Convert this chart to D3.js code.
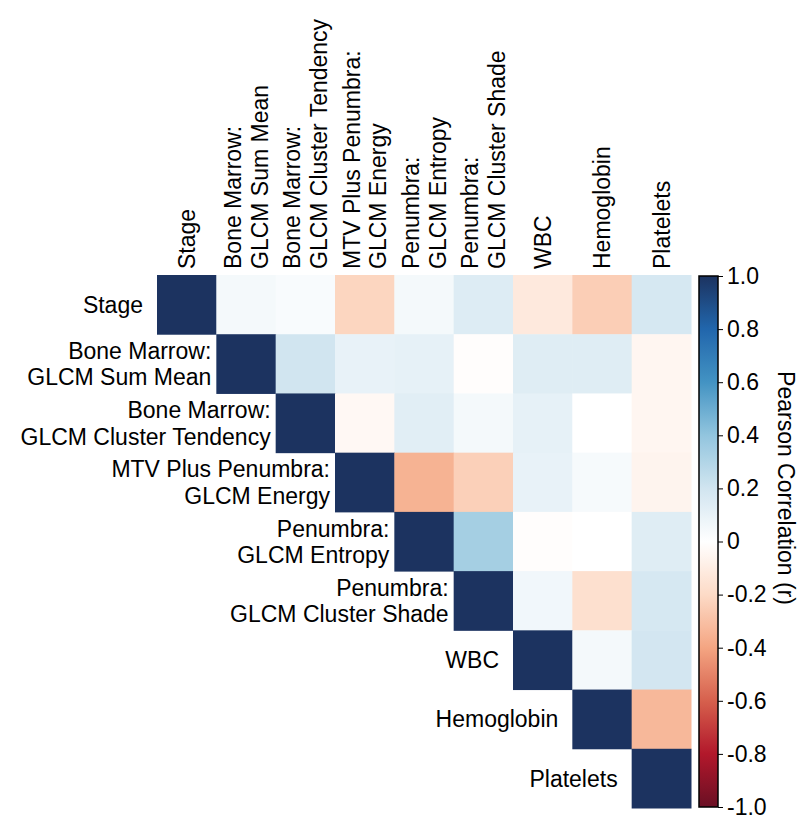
<!DOCTYPE html>
<html>
<head>
<meta charset="utf-8">
<script src="https://cdn.jsdelivr.net/npm/d3@7"></script>
<style>
  html, body { margin: 0; padding: 0; background: #ffffff; }
  svg text { font-family: "Liberation Sans", Arial, Helvetica, sans-serif; fill: #000; }
</style>
</head>
<body>
<svg id="chart" width="800" height="817"></svg>
<script>
// ---------------- data ----------------
const labels = [
  "Stage",
  "Bone Marrow:\nGLCM Sum Mean",
  "Bone Marrow:\nGLCM Cluster Tendency",
  "MTV Plus Penumbra:\nGLCM Energy",
  "Penumbra:\nGLCM Entropy",
  "Penumbra:\nGLCM Cluster Shade",
  "WBC",
  "Hemoglobin",
  "Platelets"
];
// upper triangle (diagonal first) of the Pearson correlation matrix, one array per row
const rowStage            = [1.00, 0.05, 0.03, -0.22, 0.05, 0.15, -0.12, -0.25, 0.18];
const rowBMSumMean        = [1.00, 0.20, 0.10, 0.11, -0.01, 0.14, 0.14, -0.05];
const rowBMClusterTend    = [1.00, -0.04, 0.13, 0.05, 0.11, 0.00, -0.05];
const rowMTVEnergy        = [1.00, -0.35, -0.24, 0.10, 0.04, -0.06];
const rowPenEntropy       = [1.00, 0.34, -0.01, 0.00, 0.14];
const rowPenClusterShade  = [1.00, 0.06, -0.17, 0.18];
const rowWBC              = [1.00, 0.05, 0.19];
const rowHemoglobin       = [1.00, -0.33];
const rowPlatelets        = [1.00];
const colorTicks  = [1.0, 0.8, 0.6, 0.4, 0.2, 0, -0.2, -0.4, -0.6, -0.8, -1.0];
const tickLabels  = ["1.0", "0.8", "0.6", "0.4", "0.2", "0", "-0.2", "-0.4", "-0.6", "-0.8", "-1.0"];
const colorbarTitle = "Pearson Correlation (r)";

// ---------------- build cells ----------------
const rows = [rowStage, rowBMSumMean, rowBMClusterTend, rowMTVEnergy, rowPenEntropy,
              rowPenClusterShade, rowWBC, rowHemoglobin, rowPlatelets];
const cells = [];
rows.forEach((r, i) => r.forEach((v, k) => cells.push({ row: i, col: i + k, value: v })));

// ---------------- layout ----------------
const FS = 23;
const svg = d3.select("#chart");
const idx = d3.range(labels.length);
const x = d3.scaleBand().domain(idx).range([157, 691]);
const y = d3.scaleBand().domain(idx).range([275, 808]);

const palette = ["#6a0f24", "#b2182b", "#d6604d", "#f4a582", "#fddbc7", "#ffffff",
                 "#d1e5f0", "#92c5de", "#4393c3", "#2166ac", "#1c3360"];
const interp = d3.piecewise(d3.interpolateRgb, palette);
const color = d3.scaleSequential(interp).domain([-1, 1]);

// cells
svg.append("g").selectAll("rect").data(cells).join("rect")
  .attr("x", d => x(d.col))
  .attr("y", d => y(d.row))
  .attr("width", x.bandwidth() + 0.5)
  .attr("height", y.bandwidth() + 0.5)
  .attr("fill", d => color(d.value));

// row labels (right aligned, to the left of the diagonal cell)
const lh = FS * 1.15;
const rowG = svg.append("g");
labels.forEach((lab, i) => {
  const lines = lab.split("\n");
  const gap = lines.length > 1 ? 5 : 14;
  const t = rowG.append("text")
    .attr("text-anchor", "end")
    .attr("font-size", FS)
    .attr("x", x(i) - gap)
    .attr("y", y(i) + y.bandwidth() / 2);
  lines.forEach((ln, j) => {
    t.append("tspan")
      .attr("x", x(i) - gap)
      .attr("dy", j === 0 ? ((-(lines.length - 1) / 2) * lh + FS * 0.36) : lh)
      .text(ln);
  });
});

// column labels (rotated, above the heatmap)
const colG = svg.append("g");
labels.forEach((lab, i) => {
  const lines = lab.split("\n");
  const cx = x(i) + x.bandwidth() / 2;
  const by = y.range()[0] - 6;
  const t = colG.append("text")
    .attr("font-size", FS)
    .attr("text-anchor", "start")
    .attr("transform", `translate(${cx},${by}) rotate(-90)`);
  lines.forEach((ln, j) => {
    t.append("tspan")
      .attr("x", 0)
      .attr("y", ((j - (lines.length - 1) / 2) * lh + FS * 0.36))
      .text(ln);
  });
});

// ---------------- colorbar ----------------
const cbX = 699, cbW = 19;
const cbY = d3.scaleLinear().domain([-1, 1]).range([807, 276]);
const defs = svg.append("defs");
const grad = defs.append("linearGradient").attr("id", "cbgrad")
  .attr("x1", 0).attr("y1", 1).attr("x2", 0).attr("y2", 0);
d3.range(0, 1.0001, 0.02).forEach(t => {
  grad.append("stop").attr("offset", t).attr("stop-color", color(-1 + 2 * t));
});
svg.append("rect")
  .attr("x", cbX).attr("y", cbY(1))
  .attr("width", cbW).attr("height", cbY(-1) - cbY(1))
  .attr("fill", "url(#cbgrad)")
  .attr("stroke", "#000").attr("stroke-width", 1.5);

const axis = d3.axisRight(cbY)
  .tickValues(colorTicks)
  .tickFormat((d, i) => tickLabels[i])
  .tickSize(5)
  .tickPadding(4);
const axG = svg.append("g").attr("transform", `translate(${cbX + cbW},0)`).call(axis);
axG.select(".domain").remove();
axG.selectAll(".tick line").attr("stroke", "#000").attr("stroke-width", 1);
axG.selectAll(".tick text")
  .attr("font-size", FS)
  .style("font-family", '"Liberation Sans", Arial, sans-serif')
  .attr("fill", "#000");

svg.append("text")
  .attr("font-size", FS)
  .attr("text-anchor", "middle")
  .attr("transform", `translate(778,488) rotate(90)`)
  .text(colorbarTitle);
</script>
</body>
</html>
